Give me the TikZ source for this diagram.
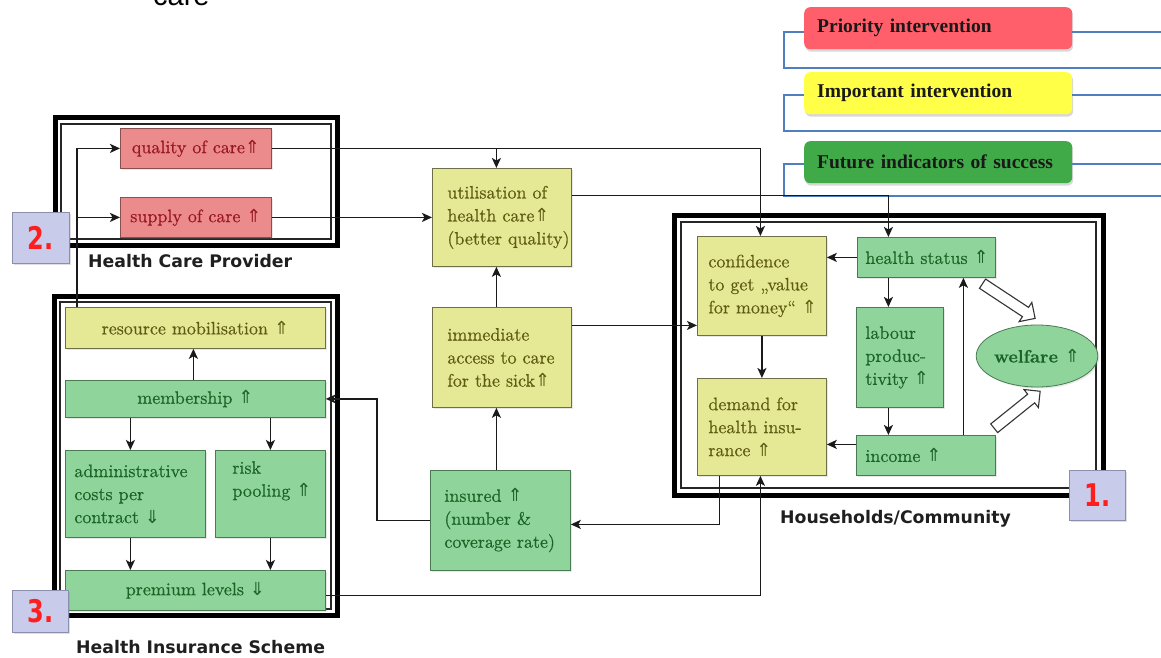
\documentclass[tikz,border=0pt]{standalone}
\usepackage{fontspec}
\usepackage{graphicx}
\usetikzlibrary{arrows.meta,shapes.geometric,shapes.arrows,shadows,calc}
\newfontfamily\boxfont{lmroman10-regular}[Extension=.otf, FakeBold=0.5, BoldFont=lmroman10-bold, BoldFeatures={FakeBold=0.3}]
\newfontfamily\legfont{Liberation Serif}
\newfontfamily\labfont{DejaVu Sans}
\newfontfamily\carefont{Liberation Sans}
\newfontfamily\arrfont{DejaVu Sans}
\definecolor{redfill}{HTML}{EC8B8C}
\definecolor{redline}{HTML}{8A5050}
\definecolor{redtext}{HTML}{961820}
\definecolor{yelfill}{HTML}{E5E996}
\definecolor{yelline}{HTML}{6E6E48}
\definecolor{yeltext}{HTML}{5E5C12}
\definecolor{grnfill}{HTML}{8FD49B}
\definecolor{grnline}{HTML}{4A7A52}
\definecolor{grntext}{HTML}{1A6425}
\definecolor{legred}{HTML}{FF5F6B}
\definecolor{legyel}{HTML}{FFFF48}
\definecolor{leggrn}{HTML}{40A948}
\definecolor{legblue}{HTML}{4F7FC0}
\definecolor{labfill}{HTML}{C9CBEA}
\definecolor{labline}{HTML}{8A8FB0}
\definecolor{labtext}{HTML}{FF1E1E}
\definecolor{conline}{HTML}{1A1A1A}
\newcommand{\myup}{{\arrfont\mdseries ⇑}}
\newcommand{\mydown}{{\arrfont\mdseries ⇓}}
\hyphenpenalty=10000
\exhyphenpenalty=10000
\hbadness=10000
\hfuzz=200pt
\begin{document}
\begin{tikzpicture}[x=1pt,y=-1pt,
  box/.style={line width=0.8pt, inner ysep=0pt, anchor=north west,
    font=\boxfont\fontsize{18}{23}\selectfont,
    drop shadow={opacity=0.18, shadow xshift=1.5pt, shadow yshift=-1.5pt}},
  rbox/.style={box, draw=redline, fill=redfill, text=redtext},
  ybox/.style={box, draw=yelline, fill=yelfill, text=yeltext},
  gbox/.style={box, draw=grnline, fill=grnfill, text=grntext},
  legbox/.style={rounded corners=6pt, anchor=north west, inner xsep=13pt, inner ysep=0pt,
    minimum width=268pt, minimum height=42pt, text width=242pt, align=left,
    font=\legfont\bfseries\fontsize{19.5}{22}\selectfont, text=black!90,
    drop shadow={opacity=0.3, shadow xshift=1pt, shadow yshift=-2.5pt}},
  labbox/.style={anchor=north west, draw=labline, fill=labfill, line width=0.8pt, inner sep=0pt,
    text=labtext, font=\labfont\bfseries\fontsize{24}{26}\selectfont,
    drop shadow={opacity=0.25, shadow xshift=1.5pt, shadow yshift=-1.5pt}},
  seclab/.style={anchor=base west, inner sep=0pt, font=\labfont\bfseries\fontsize{17.3}{20}\selectfont, text=black!88},
  conn/.style={draw=conline, line width=1.8pt},
  arr/.style={conn, -{Stealth[length=10pt,width=9pt,inset=2.5pt]}},
  blue/.style={draw=legblue, line width=1.3pt},
  outerframe/.style={draw=black, line width=5pt},
  innerframe/.style={draw=black!85, line width=1.2pt},
  hollow/.style={single arrow, draw=black!80, fill=white, line width=1.1pt, inner sep=5pt,
    minimum width=23pt, single arrow head extend=6pt, single arrow head indent=0pt}
]
\useasboundingbox (0,0) rectangle (1161,658);
\fill[white] (0,0) rectangle (1161,658);

% cut-off text at top
\node[anchor=base west, inner sep=0pt, font=\carefont\fontsize{29}{30}\selectfont] (care) at (153,6) {care};

% ---------- frames ----------
\draw[outerframe] (55,118) rectangle (337,245);
\draw[innerframe] (61,124) rectangle (331,239);
\draw[outerframe] (54,296) rectangle (337,615);
\draw[innerframe] (60,302) rectangle (331,609);
\draw[outerframe] (674,215) rectangle (1103,495);
\draw[innerframe] (681,222) rectangle (1096,488);

% ---------- legend ----------
\node[legbox, fill=legred] (lpri) at (804,7) {Priority intervention};
\node[legbox, fill=legyel] (limp) at (804,72) {Important intervention};
\node[legbox, fill=leggrn] (lfut) at (804,141) {Future indicators of success};
\coordinate (bp1) at (784,32);  \coordinate (bp2) at (784,68);  \coordinate (bp3) at (1161,68);  \coordinate (bp4) at (1161,32);
\coordinate (bi1) at (784,95);  \coordinate (bi2) at (784,131); \coordinate (bi3) at (1161,131); \coordinate (bi4) at (1161,95);
\coordinate (bf1) at (784,164); \coordinate (bf2) at (784,196); \coordinate (bf3) at (1161,196); \coordinate (bf4) at (1161,164);
\draw[blue] (lpri.west |- bp1) -- (bp1) -- (bp2) -- (bp3);
\draw[blue] (lpri.east |- bp4) -- (bp4);
\draw[blue] (limp.west |- bi1) -- (bi1) -- (bi2) -- (bi3);
\draw[blue] (limp.east |- bi4) -- (bi4);
\draw[blue] (lfut.west |- bf1) -- (bf1) -- (bf2) -- (bf3);
\draw[blue] (lfut.east |- bf4) -- (bf4);

% ---------- health care provider ----------
\node[rbox, minimum width=151pt, minimum height=40pt, inner xsep=2pt, align=center] (quality) at (120,128) {quality of care\myup};
\node[rbox, minimum width=151pt, minimum height=40pt, inner xsep=2pt, align=center] (supply) at (120,197) {supply of care \myup};

% ---------- centre column ----------
\node[ybox, minimum width=139pt, minimum height=98pt, inner xsep=15pt, text width=109pt, align=left] (util) at (432,168) {utilisation of\\health care\myup\\(better~quality)};
\node[ybox, minimum width=139pt, minimum height=100pt, inner xsep=15pt, text width=109pt, align=left] (imm) at (432,307) {immediate\\access~to~care\\for the sick\myup};
\node[gbox, minimum width=140pt, minimum height=100pt, inner xsep=14pt, text width=112pt, align=left] (ins) at (430,470) {insured \myup\\(number \&\\coverage~rate)};

% ---------- households ----------
\node[ybox, minimum width=129pt, minimum height=99pt, inner xsep=11pt, text width=107pt, align=left] (conf) at (697,236) {confidence\\to~get~„value\\for~money“~\myup};
\node[ybox, minimum width=129pt, minimum height=97pt, inner xsep=11pt, text width=107pt, align=left] (dem) at (697,378) {demand for\\health~insu-\\rance \myup};
\node[gbox, minimum width=138pt, minimum height=40pt, inner xsep=8pt, text width=122pt, align=left] (hstat) at (857,237) {health~status~\myup};
\node[gbox, minimum width=87pt, minimum height=100pt, inner xsep=9pt, text width=69pt, align=left] (labour) at (856,307) {labour\\produc-\\tivity~\myup};
\node[gbox, minimum width=139pt, minimum height=40pt, inner xsep=9pt, text width=121pt, align=left] (inc) at (856,435) {income \myup};
\node[ellipse, draw=grnline, fill=grnfill, line width=0.8pt, text=grntext, minimum width=107pt, minimum height=62pt, inner sep=0pt,
  font=\boxfont\bfseries\fontsize{18}{22}\selectfont,
  drop shadow={opacity=0.18, shadow xshift=1.5pt, shadow yshift=-1.5pt}] (welf) at (1037,356) {welfare \myup};
\node[hollow, minimum height=63pt, rotate=-33.4] (ha1) at (1006.5,299.5) {};
\node[hollow, minimum height=59pt, rotate=38.8] (ha2) at (1015,411.5) {};

% ---------- health insurance scheme ----------
\node[ybox, minimum width=260pt, minimum height=41pt, inner xsep=4pt, align=center] (res) at (65,307) {resource mobilisation \myup};
\node[gbox, minimum width=260pt, minimum height=37pt, inner xsep=4pt, align=center] (memb) at (65,380) {membership \myup};
\node[gbox, minimum width=140pt, minimum height=87pt, inner xsep=9pt, text width=122pt, align=left] (admin) at (65,450) {administrative\\costs per\\contract \mydown};
\node[gbox, minimum width=110pt, minimum height=87pt, inner xsep=17pt, text width=76pt, align=left] (risk) at (215,450) {risk\\pooling~\myup\\\strut};
\node[gbox, minimum width=260pt, minimum height=40pt, inner xsep=4pt, align=center] (prem) at (65,570) {premium levels \mydown};

% ---------- labels ----------
\node[labbox, minimum width=57pt, minimum height=51pt] (lab2) at (12,212) {\scalebox{1}[1.3]{2.}};
\node[labbox, minimum width=56pt, minimum height=42pt] (lab3) at (12,590) {\scalebox{1}[1.3]{3.}};
\node[labbox, minimum width=56pt, minimum height=50pt] (lab1) at (1069,470) {\scalebox{1}[1.3]{1.}};
\node[seclab] (hcp) at (88,267) {Health Care Provider};
\node[seclab] (hhc) at (780,523) {Households/Community};
\node[seclab] (his) at (76,653) {Health Insurance Scheme};

% ---------- connectors ----------
\draw[arr] (quality.east) -| ([xshift=-1.5pt]conf.north);
\draw[arr] ([xshift=-5.5pt]util.north |- quality.east) -- ([xshift=-5.5pt]util.north);
\draw[arr] (supply.east) -- (supply.east -| util.west);
\draw[arr] ([xshift=12pt]res.north west) |- (quality.west);
\draw[arr] ([xshift=12pt]res.north west) |- (supply.west);
\draw[arr] ([yshift=22pt]util.east) -| ([xshift=-38pt]hstat.north);
\draw[arr] ([xshift=-5.5pt]imm.north) -- ([xshift=-5.5pt]util.south);
\draw[arr] ([yshift=32pt]imm.east) -- ([yshift=32pt]imm.east -| conf.west);
\draw[arr] ([xshift=-4pt]ins.north) -- ([xshift=-4pt]ins.north |- imm.south);
\draw[arr] (ins.west) -- ++(-53,0) |- (memb.east);
\draw[arr] ([xshift=-42.5pt]dem.south) |- ([yshift=-4pt]ins.east);
\draw[arr] ([yshift=-5pt]prem.east) -| ([xshift=-1.5pt]dem.south);
\draw[arr] ([xshift=-2pt]memb.north) -- ([xshift=-2pt]memb.north |- res.south);
\draw[arr] ([xshift=-5pt]admin.north |- memb.south) -- ([xshift=-5pt]admin.north);
\draw[arr] (risk.north |- memb.south) -- (risk.north);
\draw[arr] ([xshift=-5pt]admin.south) -- ([xshift=-5pt]admin.south |- prem.north);
\draw[arr] (risk.south) -- (risk.south |- prem.north);
\draw[arr] (hstat.west) -- (hstat.west -| conf.east);
\draw[arr] ([xshift=-11.5pt]labour.north |- hstat.south) -- ([xshift=-11.5pt]labour.north);
\draw[arr] ([xshift=-11.5pt]labour.south) -- ([xshift=-11.5pt]labour.south |- inc.north);
\draw[arr] ([yshift=11pt]inc.west) -- ([yshift=11pt]inc.west -| dem.east);
\draw[arr] (conf.south) -- (dem.north);
\draw[arr] ([xshift=37.5pt]inc.north) -- ([xshift=37.5pt]inc.north |- hstat.south);
\end{tikzpicture}
\end{document}
